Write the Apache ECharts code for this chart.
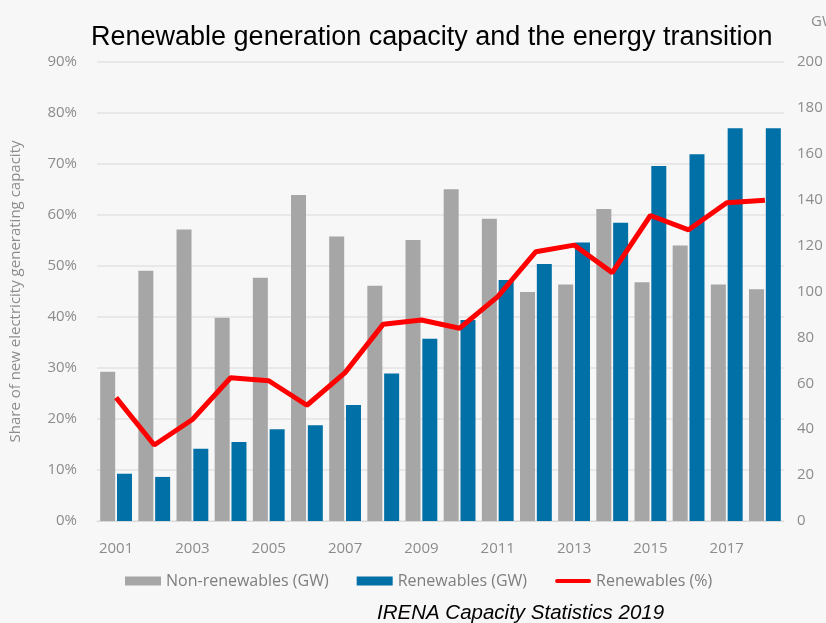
<!DOCTYPE html>
<html>
<head>
<meta charset="utf-8">
<script src="https://cdn.jsdelivr.net/npm/echarts@6/dist/echarts.min.js"></script>
<style>
  html, body { margin: 0; padding: 0; background: #f7f7f7; }
  #chart { width: 826px; height: 623px; }
</style>
</head>
<body>
<div id="chart"></div>
<script>
const years = ['2001', '2002', '2003', '2004', '2005', '2006', '2007', '2008', '2009',
  '2010', '2011', '2012', '2013', '2014', '2015', '2016', '2017', '2018']
// GW, right axis
const nonRenewablesGW = [65, 109, 127, 88.6, 106, 142, 124, 102.5, 122.4,
  144.5, 131.7, 99.8, 103, 136, 104, 120, 103, 101]
const renewablesGW = [20.6, 19.2, 31.5, 34.4, 40, 41.7, 50.5, 64.3, 79.4,
  87.6, 105, 112, 121.4, 130, 154.7, 159.8, 171.1, 171.1]
// share in %, left axis
const renewablesPct = [24.2, 14.9, 19.9, 28.1, 27.5, 22.7, 29.1, 38.6, 39.4,
  37.8, 44, 52.8, 54.1, 48.7, 59.9, 57.1, 62.4, 62.9]

const GRAY_TEXT = '#8c8c8c'
const LABEL_FONT = 'Open Sans'

const chart = echarts.init(document.getElementById('chart'), null, { renderer: 'canvas' })

const option = {
  backgroundColor: '#f7f7f7',
  animation: false,
  title: [{
    text: 'Renewable generation capacity and the energy transition',
    left: 86,
    top: 19,
    textStyle: { fontFamily: 'Liberation Sans', fontSize: 27, fontWeight: 'normal', color: '#000' }
  }, {
    text: 'GW',
    left: 806,
    top: 9,
    textStyle: { fontFamily: LABEL_FONT, fontSize: 15, fontWeight: 'normal', color: GRAY_TEXT }
  }, {
    text: 'IRENA Capacity Statistics 2019',
    left: 372,
    top: 598,
    textStyle: { fontFamily: 'Liberation Sans', fontSize: 20.5, fontStyle: 'italic', fontWeight: 'normal', color: '#000' }
  }],
  legend: {
    left: 120,
    top: 568,
    itemGap: 28,
    itemWidth: 36,
    itemHeight: 9,
    textStyle: { fontFamily: LABEL_FONT, fontSize: 16, color: '#7e7e7e' },
    data: [
      { name: 'Non-renewables (GW)', icon: 'rect' },
      { name: 'Renewables (GW)', icon: 'rect' },
      { name: 'Renewables (%)', icon: 'path://M2,0L34,0A2,2,0,0,1,34,4L2,4A2,2,0,0,1,2,0Z' }
    ]
  },
  grid: { left: 97, right: 42, top: 62, bottom: 102 },
  xAxis: {
    type: 'category',
    data: years,
    axisTick: { show: false },
    axisLine: { lineStyle: { color: '#d9d9d9', width: 1 } },
    axisLabel: {
      interval: 1,
      margin: 20,
      fontFamily: LABEL_FONT,
      fontSize: 15,
      color: GRAY_TEXT
    }
  },
  yAxis: [{
    type: 'value',
    min: 0,
    max: 90,
    interval: 10,
    name: 'Share of new electricity generating capacity',
    nameLocation: 'middle',
    nameGap: 74,
    nameTextStyle: { fontFamily: LABEL_FONT, fontSize: 15, color: GRAY_TEXT },
    axisLabel: {
      formatter: '{value}%',
      margin: 20,
      fontFamily: LABEL_FONT,
      fontSize: 15,
      color: GRAY_TEXT
    },
    splitLine: { lineStyle: { color: '#e3e3e3', width: 1.5 } }
  }, {
    type: 'value',
    min: 0,
    max: 200,
    interval: 20,
    position: 'right',
    axisLabel: {
      margin: 13,
      fontFamily: LABEL_FONT,
      fontSize: 15,
      color: GRAY_TEXT
    },
    splitLine: { show: false }
  }],
  series: [{
    name: 'Non-renewables (GW)',
    type: 'bar',
    yAxisIndex: 1,
    data: nonRenewablesGW,
    barWidth: 15,
    barGap: '12%',
    itemStyle: { color: '#a6a6a6' }
  }, {
    name: 'Renewables (GW)',
    type: 'bar',
    yAxisIndex: 1,
    data: renewablesGW,
    barWidth: 15,
    itemStyle: { color: '#0070a6' }
  }, {
    name: 'Renewables (%)',
    type: 'line',
    yAxisIndex: 0,
    data: renewablesPct,
    symbol: 'none',
    lineStyle: { color: '#ff0000', width: 5 },
    itemStyle: { color: '#ff0000' },
    z: 5
  }]
}

chart.setOption(option)
</script>
</body>
</html>
